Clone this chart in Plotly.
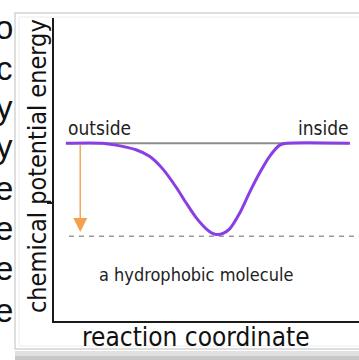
import plotly.graph_objects as go

# reaction coordinate (0..100) and chemical potential energy (outside level = 0)
curve_x = [3.9, 15.8, 20.3, 26.9, 31.3, 35.5, 40.0, 43.3, 46.6, 49.9, 51.8, 53.6,
           55.6, 57.6, 60.9, 64.1, 67.4, 70.7, 74.0, 76.2, 97.0]
curve_e = [0.0, 0.0, -0.02, -0.07, -0.14, -0.27, -0.47, -0.64, -0.80, -0.92, -0.965, -0.98,
           -0.965, -0.92, -0.75, -0.53, -0.32, -0.14, -0.02, 0.0, 0.0]

ref_x = [3.9, 97.0]
ref_e = [0.0, 0.0]

well_x = [4.9, 100.0]
well_e = [-1.0, -1.0]

arrow_x = 8.6
arrow_top = 0.0
arrow_tip = -0.955

side_labels = ["outside", "inside"]
cut_letters = ["o", "c", "y", "y", "e", "e", "e", "e"]
cut_letter_y = [28, 68, 107, 146, 188, 228, 268, 310]

W, H = 359, 360
hand = "DejaVu Sans Condensed, Liberation Sans Narrow, sans-serif"


def px(x):
    return x / W


def py(y):
    return 1 - y / H


fig = go.Figure()

fig.add_trace(go.Scatter(
    x=well_x, y=well_e, mode="lines",
    line=dict(color="#9a9a9a", width=1.5, dash="5px,5px"),
    hoverinfo="skip"))

fig.add_trace(go.Scatter(
    x=ref_x, y=ref_e, mode="lines",
    line=dict(color="#8c8c8c", width=2),
    hoverinfo="skip"))

fig.add_trace(go.Scatter(
    x=curve_x, y=curve_e, mode="lines",
    line=dict(color="#8a3fe4", width=3, shape="spline", smoothing=0.8),
    hoverinfo="skip"))

fig.add_annotation(
    x=arrow_x, y=arrow_tip, ax=arrow_x, ay=arrow_top,
    xref="x", yref="y", axref="x", ayref="y",
    text="", showarrow=True, arrowhead=2, arrowsize=2,
    arrowwidth=1.4, arrowcolor="#f5a04c")


def label(text, x, y, size, xanchor="center", angle=0, color="#222", family=hand):
    fig.add_annotation(x=px(x), y=py(y), xref="paper", yref="paper",
                       text=text, showarrow=False, xanchor=xanchor,
                       yanchor="middle", textangle=angle,
                       font=dict(family=family, size=size, color=color))


label(side_labels[0], 66, 128, 19, xanchor="left")
label(side_labels[1], 351, 128, 19, xanchor="right")
label("a hydrophobic molecule", 196, 274, 18)
label("reaction coordinate", 196, 337, 26, color="#111")
label("chemical potential energy", 37, 166, 25, angle=-90, color="#111")

# letters cut off at the left edge of the slide
for ch, yy in zip(cut_letters, cut_letter_y):
    label(ch, 15, yy, 33, xanchor="right", color="#111",
          family="Liberation Sans, Arial")

# slide frame and bottom shadow
fig.add_shape(type="rect", xref="paper", yref="paper",
              x0=px(15), x1=px(365), y0=py(349), y1=py(13),
              line=dict(color="#d4d4d4", width=1.5), layer="below")
fig.add_shape(type="rect", xref="paper", yref="paper",
              x0=px(19), x1=px(365), y0=py(346), y1=py(17),
              line=dict(color="#ececec", width=1), layer="below")
fig.add_shape(type="rect", xref="paper", yref="paper",
              x0=px(15), x1=1.01, y0=py(360), y1=py(351),
              fillcolor="#c8c8c8", line_width=0, layer="below")
fig.add_shape(type="rect", xref="paper", yref="paper",
              x0=px(15), x1=1.01, y0=py(356), y1=py(351),
              fillcolor="#e0e0e0", line_width=0, layer="below")

fig.update_layout(
    width=W, height=H,
    margin=dict(l=0, r=0, t=0, b=0),
    paper_bgcolor="white", plot_bgcolor="white",
    showlegend=False,
    xaxis=dict(domain=[px(54), 1], range=[0, 100], showgrid=False,
               zeroline=False, showticklabels=False, ticks="",
               showline=True, linecolor="#1a1a1a", linewidth=2),
    yaxis=dict(domain=[py(321), py(18)], range=[-1.911, 1.347], showgrid=False,
               zeroline=False, showticklabels=False,
               tickvals=[-0.64], ticks="outside", ticklen=5, tickwidth=1.5,
               tickcolor="#1a1a1a",
               showline=True, linecolor="#1a1a1a", linewidth=2),
)

# page has a default 8px body margin; drop it so the figure fills the window
fig.write_html("out.html", config={"displayModeBar": False},
               post_script="document.body.style.margin='0';")
